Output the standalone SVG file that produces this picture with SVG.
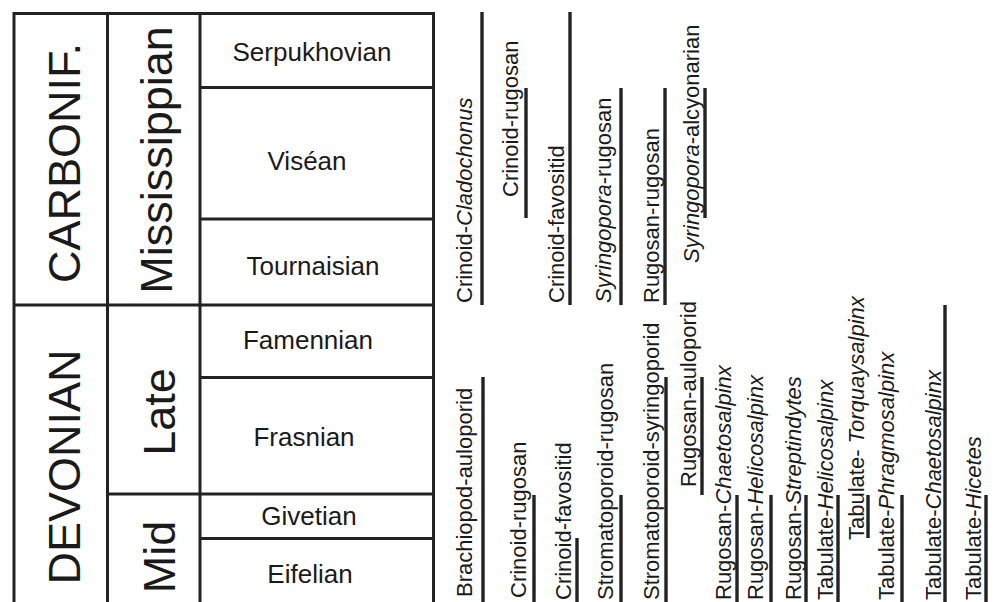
<svg xmlns="http://www.w3.org/2000/svg" width="993" height="602" viewBox="0 0 993 602">
<style>
.t{font-family:"Liberation Sans",Arial,sans-serif;fill:#1a1a1a}
.big{font-size:45px}
.stage{font-size:26px;text-anchor:middle}
.lab{font-size:22px}
.grid{stroke:#222;stroke-width:3;fill:none}
.bar{stroke:#222;stroke-width:3.4}
</style>
<rect width="993" height="602" fill="#fff"/>
<g id="table">
<path class="grid" d="M14 602V13.5H433.5V602M107.5 13.5V602M200 13.5V602M14 305H433.5M107.5 494H433.5M200 87.5H433.5M200 219H433.5M200 377.5H433.5M200 538.5H433.5"/>
</g>
<g id="periods">
<text class="t big" text-anchor="middle" transform="translate(80,163) rotate(-90)">CARBONIF.</text>
<text class="t big" text-anchor="middle" transform="translate(80,467) rotate(-90)">DEVONIAN</text>
<text class="t big" text-anchor="middle" transform="translate(172,160) rotate(-90)">Mississippian</text>
<text class="t big" text-anchor="middle" transform="translate(175,412) rotate(-90)">Late</text>
<text class="t big" text-anchor="middle" transform="translate(175,557) rotate(-90)">Mid</text>
</g>
<g id="stages">
<text class="t stage" x="312" y="61">Serpukhovian</text>
<text class="t stage" x="307" y="170">Viséan</text>
<text class="t stage" x="313" y="275">Tournaisian</text>
<text class="t stage" x="308" y="349">Famennian</text>
<text class="t stage" x="304" y="446">Frasnian</text>
<text class="t stage" x="309" y="525">Givetian</text>
<text class="t stage" x="310" y="583">Eifelian</text>
</g>
<g id="labels" class="t lab">
<text transform="translate(472,303) rotate(-90)">Crinoid-<tspan font-style="italic">Cladochonus</tspan></text>
<text transform="translate(518,197) rotate(-90)">Crinoid-rugosan</text>
<text transform="translate(564,303) rotate(-90)">Crinoid-favositid</text>
<text transform="translate(611,303) rotate(-90)"><tspan font-style="italic">Syringopora</tspan>-rugosan</text>
<text transform="translate(659,303) rotate(-90)">Rugosan-rugosan</text>
<text transform="translate(699,263) rotate(-90)"><tspan font-style="italic">Syringopora</tspan>-alcyonarian</text>
<text transform="translate(472,597) rotate(-90)">Brachiopod-auloporid</text>
<text transform="translate(526,598) rotate(-90)">Crinoid-rugosan</text>
<text transform="translate(571,600) rotate(-90)">Crinoid-favositid</text>
<text transform="translate(613,600) rotate(-90)">Stromatoporoid-rugosan</text>
<text transform="translate(659,600) rotate(-90)">Stromatoporoid-syringoporid</text>
<text transform="translate(696,487) rotate(-90)">Rugosan-auloporid</text>
<text transform="translate(731,600) rotate(-90)">Rugosan-<tspan font-style="italic">Chaetosalpinx</tspan></text>
<text transform="translate(763,600) rotate(-90)">Rugosan-<tspan font-style="italic">Helicosalpinx</tspan></text>
<text transform="translate(801,600) rotate(-90)">Rugosan-<tspan font-style="italic">Streptindytes</tspan></text>
<text transform="translate(833,600) rotate(-90)">Tabulate-<tspan font-style="italic">Helicosalpinx</tspan></text>
<text transform="translate(864,540) rotate(-90)">Tabulate- <tspan font-style="italic">Torquaysalpinx</tspan></text>
<text transform="translate(894,600) rotate(-90)">Tabulate-<tspan font-style="italic">Phragmosalpinx</tspan></text>
<text transform="translate(941,600) rotate(-90)">Tabulate-<tspan font-style="italic">Chaetosalpinx</tspan></text>
<text transform="translate(981,600) rotate(-90)">Tabulate-<tspan font-style="italic">Hicetes</tspan></text>
</g>
<g id="ranges">
<line class="bar" x1="482" y1="12" x2="482" y2="305"/>
<line class="bar" x1="526" y1="88" x2="526" y2="218"/>
<line class="bar" x1="570" y1="12" x2="570" y2="305"/>
<line class="bar" x1="621" y1="88" x2="621" y2="305"/>
<line class="bar" x1="665" y1="88" x2="665" y2="305"/>
<line class="bar" x1="705" y1="88" x2="705" y2="218"/>
<line class="bar" x1="483" y1="377" x2="483" y2="602"/>
<line class="bar" x1="534" y1="495" x2="534" y2="602"/>
<line class="bar" x1="577" y1="538" x2="577" y2="602"/>
<line class="bar" x1="621" y1="495" x2="621" y2="602"/>
<line class="bar" x1="666" y1="377" x2="666" y2="602"/>
<line class="bar" x1="702" y1="377" x2="702" y2="495"/>
<line class="bar" x1="737" y1="495" x2="737" y2="602"/>
<line class="bar" x1="771" y1="495" x2="771" y2="602"/>
<line class="bar" x1="806" y1="495" x2="806" y2="602"/>
<line class="bar" x1="838" y1="495" x2="838" y2="602"/>
<line class="bar" x1="868" y1="495" x2="868" y2="538"/>
<line class="bar" x1="902" y1="495" x2="902" y2="602"/>
<line class="bar" x1="945" y1="305" x2="945" y2="602"/>
<line class="bar" x1="986" y1="495" x2="986" y2="602"/>
</g>
</svg>
